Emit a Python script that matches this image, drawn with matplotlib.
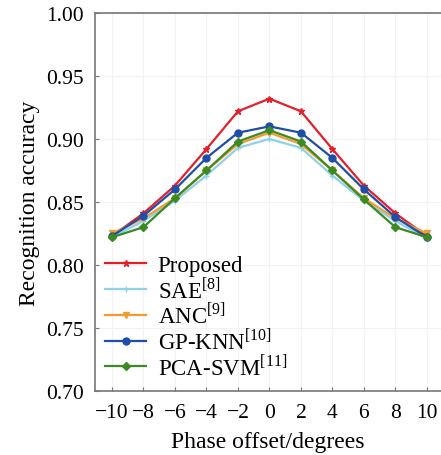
import matplotlib
matplotlib.use("Agg")
from matplotlib import pyplot as plt

phaseOffset = [-10, -8, -6, -4, -2, 0, 2, 4, 6, 8, 10]
proposed = [0.823, 0.841, 0.863, 0.892, 0.922, 0.932, 0.922, 0.892, 0.863, 0.841, 0.823]
sae = [0.822, 0.835, 0.851, 0.871, 0.893, 0.900, 0.893, 0.871, 0.851, 0.835, 0.821]
anc = [0.825, 0.837, 0.853, 0.875, 0.896, 0.905, 0.896, 0.875, 0.853, 0.837, 0.825]
gpKnn = [0.823, 0.839, 0.860, 0.885, 0.905, 0.910, 0.905, 0.885, 0.860, 0.838, 0.822]
pcaSvm = [0.822, 0.830, 0.853, 0.875, 0.898, 0.907, 0.898, 0.875, 0.852, 0.830, 0.822]

yTicks = [0.70, 0.75, 0.80, 0.85, 0.90, 0.95, 1.00]

plt.rcParams['font.family'] = ['Liberation Serif', 'DejaVu Serif']
plt.rcParams['mathtext.fontset'] = 'custom'
plt.rcParams['mathtext.rm'] = 'Liberation Serif'

fig = plt.figure(figsize=(4.41, 4.56), dpi=100)
ax = fig.add_axes([0.2154, 0.1404, 0.7846, 0.8289])

series = [
    (proposed, "Proposed", "#e3202a", "*", 5),
    (sae, r"SAE$^{\mathrm{[8]}}$", "#8fd0ea", "+", 5),
    (anc, r"ANC$^{\mathrm{[9]}}$", "#f59a30", "v", 4.5),
    (gpKnn, r"GP-KNN$^{\mathrm{[10]}}$", "#1f4ea6", "o", 5),
    (pcaSvm, r"PCA-SVM$^{\mathrm{[11]}}$", "#3b8a22", "D", 4.5),
]
for values, name, color, marker, size in series:
    ax.plot(phaseOffset, values, color=color, marker=marker, markersize=size,
            linewidth=1.6, label=name)

ax.set_xlim(-11.08, 10.9)
ax.set_ylim(0.70, 1.00)
ax.set_xticks(phaseOffset)
ax.set_xticklabels([str(v).replace("-", "\u2212") for v in phaseOffset])
ax.set_yticks(yTicks)
ax.set_yticklabels(["%.2f" % v for v in yTicks])
ax.tick_params(direction="in", length=3, width=0.8, color="#777777",
               labelsize=15.5)
ax.tick_params(axis="y", pad=8)
ax.tick_params(axis="x", pad=9)
ax.grid(True, color="#f2f2f2", linewidth=0.8)
ax.set_axisbelow(True)
for side in ["left", "top", "bottom"]:
    ax.spines[side].set_color("#777777")
    ax.spines[side].set_linewidth(1.2)
ax.spines["right"].set_visible(False)

ax.set_xlabel("Phase offset/degrees", fontsize=17, labelpad=6)
ax.set_ylabel("Recognition accuracy", fontsize=17, labelpad=4)

ax.legend(loc="upper left", bbox_to_anchor=(0.238, 0.439),
          bbox_transform=fig.transFigure, frameon=False,
          fontsize=16.5, handlelength=1.8, handletextpad=0.5,
          labelspacing=0.0, borderaxespad=0.0, borderpad=0.0)

fig.savefig("out.png", dpi=100)
